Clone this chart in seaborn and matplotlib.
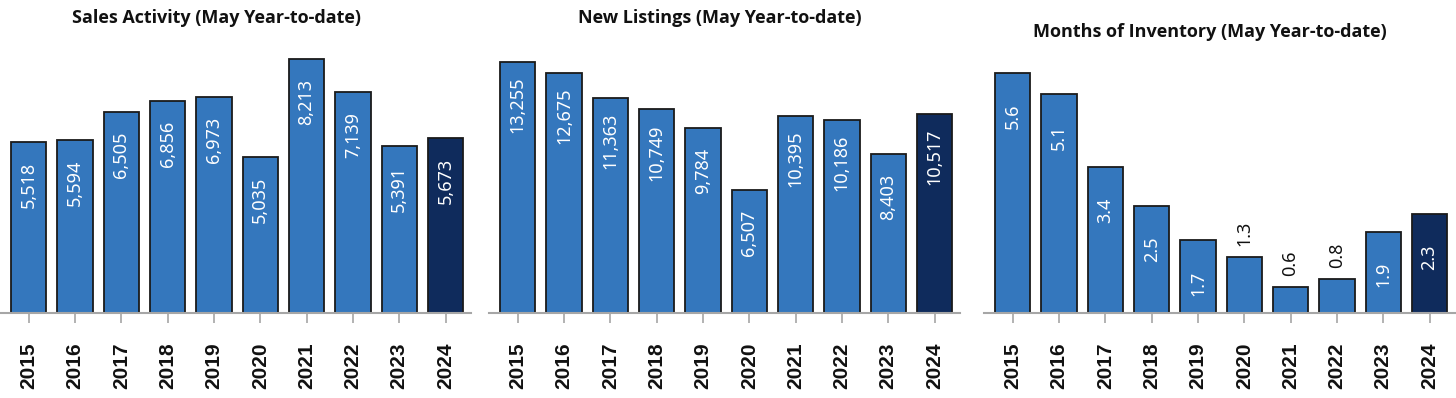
import matplotlib
matplotlib.use("Agg")
import matplotlib.pyplot as plt
import seaborn as sns
import pandas as pd

# =====================================================
# DATA
# =====================================================

years = ["2015", "2016", "2017", "2018", "2019",
         "2020", "2021", "2022", "2023", "2024"]

sales = [5518, 5594, 6505, 6856, 6973, 5035, 8213, 7139, 5391, 5673]
listings = [13255, 12675, 11363, 10749, 9784, 6507, 10395, 10186, 8403, 10517]
inventory = [5.6, 5.1, 3.4, 2.5, 1.7, 1.3, 0.6, 0.8, 1.9, 2.3]

titles = [
    "Sales Activity (May Year-to-date)",
    "New Listings (May Year-to-date)",
    "Months of Inventory (May Year-to-date)",
]

# =====================================================
# STYLE
# =====================================================

sns.set_theme(style="white")
plt.rcParams["font.family"] = ["Noto Sans", "DejaVu Sans"]

blue = "#3477bd"
navy = "#0f2b5c"
colors = [blue] * 9 + [navy]

fig = plt.figure(figsize=(14.56, 3.98), dpi=100)

# axes boxes in pixels: left, right
boxes = [(0, 471), (489, 960), (984, 1455)]
ytops = [8827, 14417, 6.37]
title_pos = [(216, 18), (720, 18), (1210, 32)]

series = [
    (sales, "{:,.0f}"),
    (listings, "{:,.0f}"),
    (inventory, "{:.1f}"),
]

for i, ((vals, fmt), (l, r)) in enumerate(zip(series, boxes)):
    ax = fig.add_axes([l / 1456, 1 - 313 / 398, (r - l) / 1456, 273 / 398])
    df = pd.DataFrame({"Year": years, "Value": vals})
    sns.barplot(
        data=df, x="Year", y="Value", hue="Year",
        palette=colors, legend=False, width=0.76, saturation=1,
        edgecolor="#1a1a1a", linewidth=1.3, ax=ax,
    )
    ax.set_ylim(0, ytops[i])
    ax.set_xlim(-0.62, 9.55)
    ax.set_xlabel("")
    ax.set_ylabel("")
    ax.set_yticks([])
    for s in ["top", "right", "left"]:
        ax.spines[s].set_visible(False)
    ax.spines["bottom"].set_color("#a6a6a6")
    ax.spines["bottom"].set_linewidth(1.5)
    ax.tick_params(axis="x", bottom=True, length=7, width=1.2,
                   color="#a6a6a6", pad=14)
    for lab in ax.get_xticklabels():
        lab.set_rotation(90)
        lab.set_fontweight("bold")
        lab.set_fontsize(15)
        lab.set_family("Liberation Sans")
        lab.set_color("#111111")

    # value labels
    for j, v in enumerate(vals):
        if v / ytops[i] > 0.25:
            ax.annotate(fmt.format(v), (j, v), xytext=(0, -31),
                        textcoords="offset points", ha="center", va="center",
                        rotation=90, color="white", fontsize=13)
        else:
            ax.annotate(fmt.format(v), (j, v), xytext=(0, 17),
                        textcoords="offset points", ha="center", va="center",
                        rotation=90, color="#111111", fontsize=13)

    tx, ty = title_pos[i]
    fig.text(tx / 1456, 1 - ty / 398, titles[i], ha="center", va="center",
             fontsize=13, fontweight="bold", family="Open Sans", color="#111111")

fig.savefig("out.png", dpi=100)
